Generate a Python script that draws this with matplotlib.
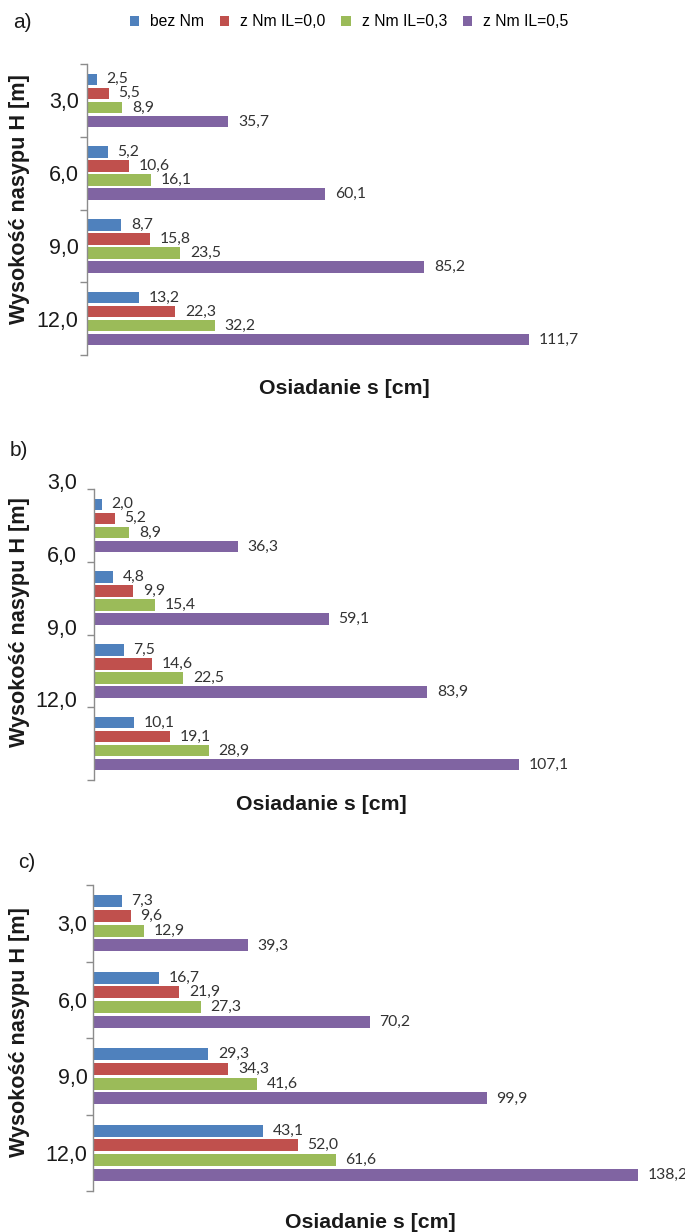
import matplotlib
matplotlib.use("Agg")
import matplotlib.pyplot as plt
from matplotlib.patches import Patch
import numpy as np

# ---- data ----
heights = ["3,0", "6,0", "9,0", "12,0"]
series = ["bez Nm", "z Nm IL=0,0", "z Nm IL=0,3", "z Nm IL=0,5"]
colors = ["#4F81BD", "#C0504D", "#9BBB59", "#8064A2"]

a_bez = [2.5, 5.2, 8.7, 13.2]
a_il00 = [5.5, 10.6, 15.8, 22.3]
a_il03 = [8.9, 16.1, 23.5, 32.2]
a_il05 = [35.7, 60.1, 85.2, 111.7]

b_bez = [2.0, 4.8, 7.5, 10.1]
b_il00 = [5.2, 9.9, 14.6, 19.1]
b_il03 = [8.9, 15.4, 22.5, 28.9]
b_il05 = [36.3, 59.1, 83.9, 107.1]

c_bez = [7.3, 16.7, 29.3, 43.1]
c_il00 = [9.6, 21.9, 34.3, 52.0]
c_il03 = [12.9, 27.3, 41.6, 61.6]
c_il05 = [39.3, 70.2, 99.9, 138.2]

ylabel = "Wysokość nasypu H [m]"
xlabel = "Osiadanie s [cm]"

W, H = 685, 1232
fig = plt.figure(figsize=(W / 100, H / 100), dpi=100)

TXT = "#1a1a1a"
SPINE = "#8c8c8c"


def px_axes(left, top, right, bottom):
    return fig.add_axes([left / W, 1 - bottom / H, (right - left) / W, (bottom - top) / H])


def draw_panel(box, data, xmax, between=False, label_pad=5):
    ax = px_axes(*box)
    y = np.arange(len(heights))
    pitch = 0.193
    bh = 0.158
    for j, (vals, col) in enumerate(zip(data, colors)):
        pos = y + (j - 1.5) * pitch
        bars = ax.barh(pos, vals, height=bh, color=col, edgecolor="none")
        labels = [f"{v:.1f}".replace(".", ",") for v in vals]
        ax.bar_label(bars, labels=labels, padding=7, fontsize=11.3,
                     family=["Lato", "DejaVu Sans"], color="#333333")
    ax.set_ylim(len(heights) - 0.5, -0.5)
    ax.set_xlim(0, xmax)
    for s in ["top", "right", "bottom"]:
        ax.spines[s].set_visible(False)
    ax.spines["left"].set_color(SPINE)
    ax.spines["left"].set_linewidth(1.0)
    ax.set_xticks([])
    if between:
        ticks = np.arange(-0.5, len(heights) + 0.5, 1.0)
        ax.set_yticks(ticks)
        ax.set_yticklabels(heights + [""])
        for t in ax.get_yticklabels():
            t.set_va("baseline")
        ax.tick_params(axis="y", which="major", pad=label_pad)
    else:
        ax.set_yticks(np.arange(-0.5, len(heights) + 0.5, 1.0))
        ax.set_yticklabels([])
        ax.set_yticks(y, minor=True)
        ax.set_yticklabels(heights, minor=True)
        ax.tick_params(axis="y", which="minor", length=0, pad=label_pad)
    ax.tick_params(axis="y", which="major", length=5, width=1, color=SPINE,
                   direction="out")
    for t in ax.get_yticklabels(which="both"):
        t.set_fontsize(15.5)
        t.set_family("Liberation Sans")
        t.set_color(TXT)
    return ax


boxes = [(87, 64, 602, 355), (94, 489, 548, 780), (93, 885, 647, 1191)]
xmaxes = [(602 - 87) / 3.96, (548 - 94) / 3.97, (647 - 93) / 3.94]
datasets = [
    [a_bez, a_il00, a_il03, a_il05],
    [b_bez, b_il00, b_il03, b_il05],
    [c_bez, c_il00, c_il03, c_il05],
]
between_flags = [False, True, False]
pads = [6, 7, 4]
xlab_y = [389, 804, 1222]
ylab_y = [199, 622, 1032]
panel_tags = [("a)", 22, 22), ("b)", 19, 450), ("c)", 27, 863)]

for box, xm, data, bt, pd, xly, yly, tag in zip(boxes, xmaxes, datasets, between_flags,
                                                 pads, xlab_y, ylab_y, panel_tags):
    draw_panel(box, data, xm, between=bt, label_pad=pd)
    cx = (box[0] + box[2]) / 2
    fig.text(cx / W, 1 - xly / H, xlabel, ha="center", va="center", fontsize=15.3,
             fontweight="bold", family="Liberation Sans", color=TXT)
    fig.text(20 / W, 1 - yly / H, ylabel, ha="center", va="center", rotation=90,
             fontsize=15.6, fontweight="bold", family="Liberation Sans", color=TXT)
    fig.text(tag[1] / W, 1 - tag[2] / H, tag[0], ha="center", va="center",
             fontsize=15, family="Liberation Sans", color=TXT)

handles = [Patch(facecolor=c, edgecolor="none") for c in colors]
fig.legend(handles, series, loc="center", bbox_to_anchor=(349 / W, 1 - 22 / H),
           ncol=4, frameon=False, handlelength=0.6, handleheight=0.6,
           handletextpad=0.7, columnspacing=1.0,
           prop={"family": "Liberation Sans", "size": 11.3})

fig.savefig("out.png", dpi=100, facecolor="white")
